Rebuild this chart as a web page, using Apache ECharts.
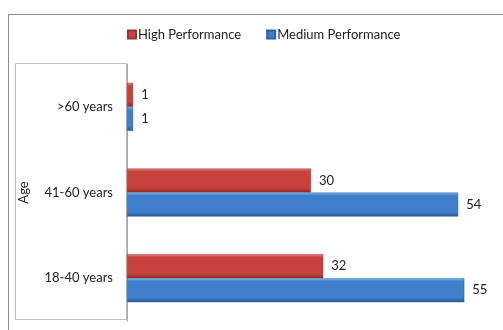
<!DOCTYPE html>
<html>
<head>
<meta charset="utf-8">
<script src="https://cdn.jsdelivr.net/npm/echarts@6/dist/echarts.min.js"></script>
<style>html,body{margin:0;padding:0;background:#fff;}#c{width:503px;height:330px;}</style>
</head>
<body>
<div id="c"></div>
<script>
var categories = ['>60 years', '41-60 years', '18-40 years'];
var highPerformance = [1, 30, 32];
var mediumPerformance = [1, 54, 55];
var seriesNames = ['High Performance', 'Medium Performance'];
var axisName = 'Age';

var FONT = 'Lato';
function grad(top, mid, bot) {
  return new echarts.graphic.LinearGradient(0, 0, 0, 1, [
    {offset: 0, color: top}, {offset: 0.12, color: mid}, {offset: 0.8, color: mid}, {offset: 1, color: bot}
  ]);
}
var chart = echarts.init(document.getElementById('c'), null, {renderer: 'canvas'});
chart.setOption({
  animation: false,
  textStyle: {fontFamily: FONT},
  graphic: [
    {type: 'rect', shape: {x: 8.5, y: 14.5, width: 600, height: 400}, style: {fill: 'none', stroke: '#8c8c8c', lineWidth: 1}, z: -1},
    {type: 'rect', shape: {x: 15.5, y: 63.5, width: 111, height: 256}, style: {fill: 'none', stroke: '#bdbdbd', lineWidth: 1}, z: -1}
  ],
  legend: {
    data: seriesNames,
    top: 23,
    left: 122,
    itemWidth: 8,
    itemHeight: 8,
    itemGap: 25,
    icon: 'rect',
    textStyle: {fontFamily: FONT, fontSize: 13, color: '#222', padding: [0, 0, 0, -3]}
  },
  grid: {left: 127, right: 8, top: 64, bottom: 9, containLabel: false},
  xAxis: {
    type: 'value', min: 0, max: 60, show: false
  },
  yAxis: {
    type: 'category', data: categories, inverse: true,
    axisLine: {show: true, lineStyle: {color: '#a6a6a6'}},
    axisTick: {show: false},
    axisLabel: {margin: 14, fontFamily: FONT, fontSize: 13, color: '#222'},
    name: axisName, nameLocation: 'middle', nameRotate: 90, nameGap: 97,
    nameTextStyle: {fontFamily: FONT, fontSize: 13, color: '#222'}
  },
  series: [
    {
      name: seriesNames[0], type: 'bar', data: highPerformance,
      barWidth: 24, barGap: '0%',
      itemStyle: {color: grad('#ec8a85', '#c8423d', '#8e2a27'), borderColor: '#9a3431', borderWidth: 0.5},
      label: {show: true, position: 'right', distance: 8, fontFamily: FONT, fontSize: 13, color: '#222'}
    },
    {
      name: seriesNames[1], type: 'bar', data: mediumPerformance,
      barWidth: 24, barGap: '0%',
      itemStyle: {color: grad('#8cc0f0', '#3f7fcc', '#2a5a98'), borderColor: '#2f5f9c', borderWidth: 0.5},
      label: {show: true, position: 'right', distance: 8, fontFamily: FONT, fontSize: 13, color: '#222'}
    }
  ]
});
</script>
</body>
</html>
